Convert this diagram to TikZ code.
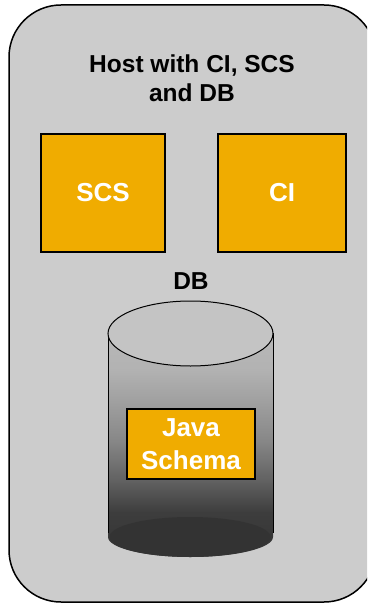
\documentclass[tikz,border=0pt]{standalone}
\usepackage{fontspec}
\setmainfont{Liberation Sans}
\usepackage{tikz}
\usetikzlibrary{calc}
\tikzset{>=latex}
\definecolor{hostgray}{HTML}{CCCCCC}
\definecolor{lidgray}{HTML}{C4C4C4}
\definecolor{boxorange}{HTML}{F0AC00}
\definecolor{dbdark}{HTML}{333333}
\pgfdeclareverticalshading{dbbody}{100bp}{color(0bp)=(dbdark); color(25bp)=(dbdark); color(35bp)=(dbdark!95!white); color(42bp)=(black!62); color(51bp)=(black!47); color(60bp)=(black!37); color(67bp)=(black!30); color(75bp)=(black!28); color(100bp)=(black!28)}
\tikzset{
  instbox/.style={draw=black,line width=1.8pt,fill=boxorange,text=white,font=\bfseries\fontsize{26}{33}\selectfont,align=center,inner sep=0pt},
  lbl/.style={font=\bfseries\fontsize{24.5}{29}\selectfont,align=center,inner sep=0pt}
}

\begin{document}
\begin{tikzpicture}[x=1pt,y=-1pt]
    \useasboundingbox (0,0) rectangle (367,604);
    \begin{scope}
      \clip (0,0) rectangle (367,604);
      \draw[line width=1.5pt,fill=hostgray,rounded corners=52pt] (9,5) rectangle (376,602);
    \end{scope}
    \node[lbl] (host) at (192,78) {Host with CI, SCS\\and DB};
    \node[instbox,minimum width=124pt,minimum height=118pt] (scs) at (103,193) {SCS};
    \node[instbox,minimum width=128pt,minimum height=118pt] (ci) at (282,193) {CI};
    \node[lbl] (dblabel) at (191,281) {DB};
    % database cylinder
    \shade[shading=dbbody] (108,333) -- (108,537) arc[start angle=180,end angle=360,x radius=82.5pt,y radius=20pt] -- (273,333) -- cycle;
    \fill[dbdark] (190,537) ellipse[x radius=80.5pt,y radius=20pt];
    \draw[line width=1pt] (108,333) -- (108,533);
    \draw[line width=1pt] (273,333) -- (273,533);
    \draw[line width=1pt,fill=lidgray] (190.5,333.5) ellipse[x radius=82.5pt,y radius=32.5pt];
    \node[instbox,minimum width=128pt,minimum height=70pt] (schema) at (191,444) {Java\\Schema};
\end{tikzpicture}
\end{document}
